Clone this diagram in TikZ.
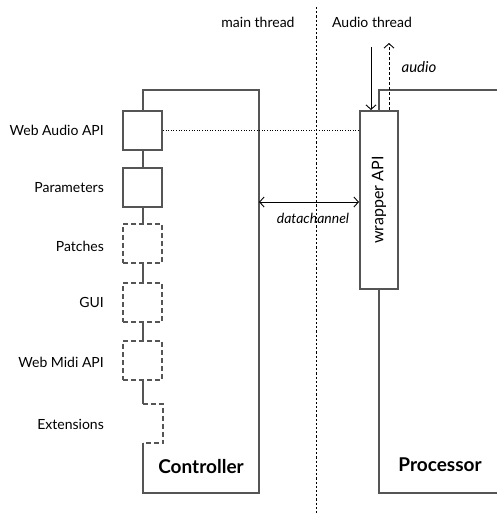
\documentclass[tikz,border=0pt]{standalone}
\usepackage{fontspec}
\setmainfont{Lato}
\usetikzlibrary{arrows.meta}
\definecolor{frame}{HTML}{555555}
\begin{document}
\begin{tikzpicture}[x=1pt,y=-1pt,
  box/.style={draw=frame, line width=2pt, minimum width=39pt, minimum height=39pt, inner sep=0pt},
  dbox/.style={box, dash pattern=on 5pt off 3pt},
  lbl/.style={anchor=east, font=\fontsize{14}{16}\selectfont, inner sep=0pt},
  txt/.style={font=\fontsize{14}{16}\selectfont, inner sep=0pt},
  itxt/.style={font=\fontsize{14}{16}\selectfont\itshape, inner sep=0pt},
  big/.style={font=\fontsize{19}{21}\selectfont\bfseries, inner sep=0pt},
  fr/.style={draw=frame, line width=2pt},
  thin/.style={draw=black, line width=0.8pt},
  tip/.style={-{Straight Barb[length=4.5pt,width=10pt,line width=0.9pt]}}
]
\useasboundingbox (0,0) rectangle (497,515);

% thread divider
\coordinate (divT) at (316,7);
\coordinate (divB) at (316,513);
\draw[black, line width=0.6pt, dash pattern=on 2.2pt off 2pt] (divT) -- (divB);
\node[txt] (mt) at (258,22) {main thread};
\node[txt] (at) at (372,22) {Audio thread};

% controller stack
\node[box]  (wa)  at (142.5,130.5) {};
\node[box]  (par) at (142.5,187.5) {};
\node[dbox] (pat) at (142.5,243.5) {};
\node[dbox] (gui) at (142.5,302.5) {};
\node[dbox] (midi) at (142.5,360.5) {};
\coordinate (extT) at (142.5,404);
\coordinate (extB) at (142.5,443);

\node[lbl] (lwa)  at (104,130.5) {Web Audio API};
\node[lbl] (lpar) at (104,188) {Parameters};
\node[lbl] (lpat) at (104,246) {Patches};
\node[lbl] (lgui) at (104,302) {GUI};
\node[lbl] (lmidi) at (104,362) {Web Midi API};
\node[lbl] (lext) at (104,424) {Extensions};

\coordinate (cTL) at (142.5,90);
\coordinate (cTR) at (259,90);
\coordinate (cBR) at (259,493);
\coordinate (cBL) at (142.5,493);

\draw[fr] (wa.north) -- (cTL) -- (cTR) -- (cBR) -- (cBL) -- (extB);
\draw[fr] (wa.south) -- (par.north);
\draw[fr] (par.south) -- (pat.north);
\draw[fr] (pat.south) -- (gui.north);
\draw[fr] (gui.south) -- (midi.north);
\draw[fr] (midi.south) -- (extT);
\draw[fr, dash pattern=on 5pt off 3pt] (extT) -- ++(20.5,0) -- ++(0,39) -- (extB);

\node[big] (ctl) at (201,467) {Controller};

% processor
\node[draw=frame, line width=2pt, minimum width=38pt, minimum height=178pt, inner sep=0pt] (wr) at (379,200) {};
\node[font=\fontsize{16}{18}\selectfont, inner sep=0pt, rotate=90] (wrl) at (wr.center) {wrapper API};
\coordinate (pTR) at (500,90);
\coordinate (pBL) at (379,493);
\coordinate (pBR) at (500,493);
\draw[fr] (wr.north) -- (wr.north |- pTR) -- (pTR);
\draw[fr] (wr.south) -- (pBL) -- (pBR);
\node[big] (proc) at (440,465) {Processor};

% audio arrows
\coordinate (ain) at (371,47);
\coordinate (aout) at (389,43);
\draw[thin, tip] (ain) -- (wr.north -| ain);
\draw[thin, tip, dash pattern=on 3pt off 2pt] (wr.north -| aout) -- (aout);
\node[font=\fontsize{15}{17}\selectfont\itshape, inner sep=0pt] (aud) at (419,67) {audio};

% dotted link
\draw[black, line width=0.6pt, dash pattern=on 1pt off 1.6pt] (wa.east) -- (wr.west |- wa.east);

% datachannel
\coordinate (dcL) at (259,202);
\draw[thin, {Straight Barb[length=4.5pt,width=10pt,line width=0.9pt]}-{Straight Barb[length=4.5pt,width=10pt,line width=0.9pt]}] (dcL) -- (wr.west |- dcL);
\node[itxt] (dc) at (313,218) {datachannel};
\end{tikzpicture}
\end{document}
